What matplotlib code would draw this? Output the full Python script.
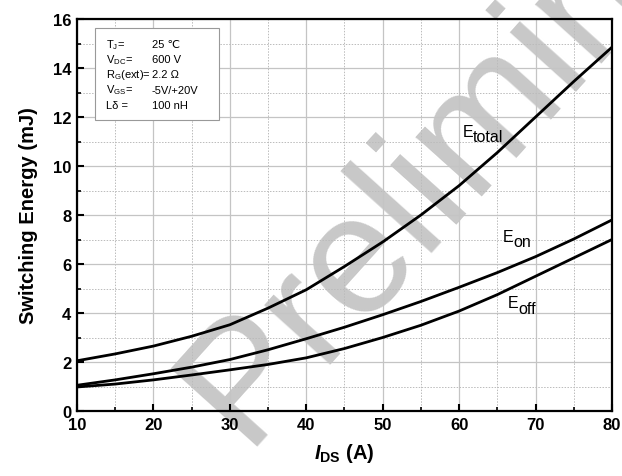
import numpy as np
import matplotlib
matplotlib.use("Agg")
import matplotlib.pyplot as plt
from matplotlib.ticker import MultipleLocator

plt.rcParams['font.family'] = ['Liberation Sans', 'DejaVu Sans']
plt.rcParams['mathtext.fontset'] = 'custom'
plt.rcParams['mathtext.rm'] = 'Liberation Sans'
plt.rcParams['mathtext.it'] = 'Liberation Sans:italic:bold'
plt.rcParams['mathtext.bf'] = 'Liberation Sans:bold'

# drain current (A)
ids = [10, 15, 20, 25, 30, 35, 40, 45, 50, 55, 60, 65, 70, 75, 80]
# switching energies (mJ)
e_total = [2.05, 2.33, 2.65, 3.05, 3.52, 4.2, 4.95, 5.9, 6.9, 8.0, 9.2, 10.55, 12.0, 13.45, 14.85]
e_on = [1.05, 1.27, 1.52, 1.79, 2.1, 2.5, 2.95, 3.42, 3.93, 4.47, 5.05, 5.65, 6.3, 7.02, 7.8]
e_off = [0.98, 1.1, 1.27, 1.47, 1.68, 1.9, 2.17, 2.55, 3.0, 3.5, 4.08, 4.75, 5.5, 6.25, 7.0]

cond_names = [r'T$_\mathrm{J}$=', r'V$_\mathrm{DC}$=', r'R$_\mathrm{G}$(ext)=', r'V$_\mathrm{GS}$=', 'L\u03b4 =']
cond_values = ['25 \u2103', '600 V', '2.2 \u03a9', '-5V/+20V', '100 nH']

fig = plt.figure(figsize=(6.22, 4.77), dpi=100)
ax = fig.add_axes([77 / 622, 1 - 412 / 477, 535 / 622, 392 / 477])

for y in [e_total, e_on, e_off]:
    ax.plot(ids, y, color='black', lw=2.0, zorder=3)

ax.set_xlim(10, 80)
ax.set_ylim(0, 16)
ax.xaxis.set_major_locator(MultipleLocator(10))
ax.xaxis.set_minor_locator(MultipleLocator(5))
ax.yaxis.set_major_locator(MultipleLocator(2))
ax.yaxis.set_minor_locator(MultipleLocator(1))
ax.grid(which='major', color='#c4c4c4', lw=0.9, ls='-')
ax.grid(which='minor', color='#bbbbbb', lw=0.7, ls=(0, (1.5, 1.5)))
ax.tick_params(which='major', direction='in', length=5, width=1.5,
               labelsize=12, pad=4, top=False, right=False)
ax.tick_params(which='minor', direction='in', length=3, width=1.2,
               top=False, right=False)
for lab in ax.get_xticklabels() + ax.get_yticklabels():
    lab.set_fontweight('bold')
for sp in ax.spines.values():
    sp.set_linewidth(1.6)

ax.set_ylabel('Switching Energy (mJ)', fontsize=14.5, fontweight='bold', labelpad=11)
ax.set_xlabel(r'$I_{\mathbf{DS}}$ (A)', fontsize=14.5, fontweight='bold', labelpad=7)

# curve labels
ax.text(60.5, 11.22, 'E', fontsize=11.5)
ax.text(61.8, 11.0, 'total', fontsize=11.5)
ax.text(65.75, 6.94, 'E', fontsize=11.5)
ax.text(67.05, 6.72, 'on', fontsize=11.5)
ax.text(66.4, 4.24, 'E', fontsize=11.5)
ax.text(67.7, 4.02, 'off', fontsize=11.5)

# conditions box
box = plt.Rectangle((95 / 622, 1 - 121 / 477), 124 / 622, 92 / 477,
                    transform=fig.transFigure, facecolor='white',
                    edgecolor='#999999', lw=0.8, zorder=4)
fig.add_artist(box)
for i, (n, v) in enumerate(zip(cond_names, cond_values)):
    yy = 1 - (48 + i * 15.2) / 477
    fig.text(106 / 622, yy, n, fontsize=8, va='baseline', zorder=5)
    fig.text(152 / 622, yy, v, fontsize=8, va='baseline', zorder=5)

# watermark
ax.text(243 / 622, 1 - 447 / 477, 'Preliminary', transform=fig.transFigure,
        fontsize=122, color='#c8c8c8', rotation=48,
        rotation_mode='anchor', ha='left', va='baseline', zorder=1.5,
        clip_on=False)

fig.savefig('out.png', dpi=100)
